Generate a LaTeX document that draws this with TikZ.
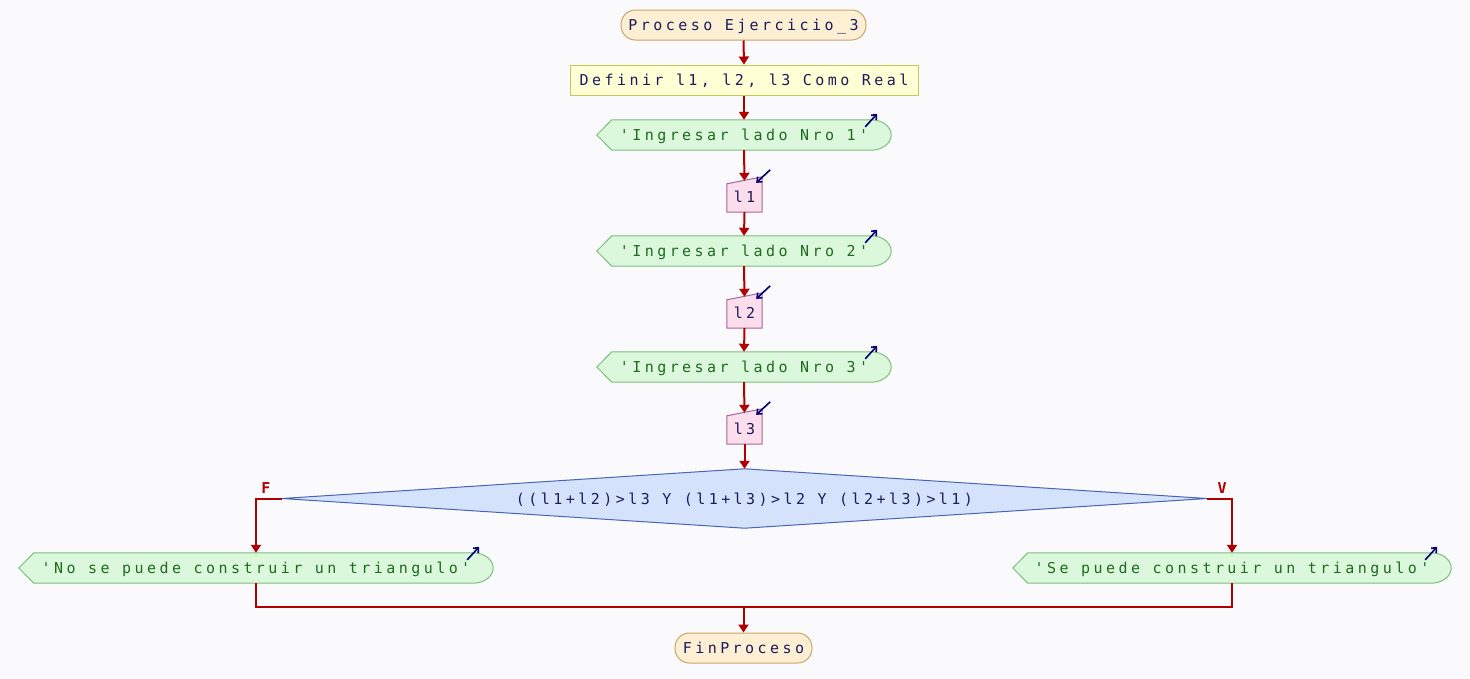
\documentclass[tikz,border=0pt]{standalone}
\usepackage{fontspec}
\usetikzlibrary{arrows.meta,calc}
\newfontfamily\pmono[LetterSpace=23]{DejaVu Sans Mono}
\newfontfamily\plbl{DejaVu Sans Mono}
\definecolor{bgc}{HTML}{FAFAFC}
\definecolor{termfill}{HTML}{FDEFD3}
\definecolor{termdraw}{HTML}{C9A46A}
\definecolor{deffill}{HTML}{FFFFD6}
\definecolor{defdraw}{HTML}{C8C858}
\definecolor{outfill}{HTML}{DCF8DC}
\definecolor{outdraw}{HTML}{7DBE7D}
\definecolor{outtext}{HTML}{1E6A1E}
\definecolor{infill}{HTML}{FBDDEB}
\definecolor{indraw}{HTML}{A8639F}
\definecolor{decfill}{HTML}{D5E2FB}
\definecolor{decdraw}{HTML}{4A64B4}
\definecolor{navytext}{HTML}{1C1C5C}
\definecolor{arrc}{HTML}{B00000}
\definecolor{iconc}{HTML}{000070}
\pgfdeclarelayer{bglayer}
\pgfdeclarelayer{shapelayer}
\pgfsetlayers{bglayer,shapelayer,main}
\newcommand\outshape[1]{%
  \draw[fill=outfill,draw=outdraw,line width=1pt]
    (#1.west) -- ($(#1.north west)+(15,0)$) -- ($(#1.north east)+(-20,0)$)
    .. controls ($(#1.north east)+(-9,0)$) and ($(#1.east)+(0,-8.3)$) .. (#1.east)
    .. controls ($(#1.east)+(0,8.3)$) and ($(#1.south east)+(-9,0)$) .. ($(#1.south east)+(-20,0)$)
    -- ($(#1.south west)+(15,0)$) -- cycle;}
\newcommand\inshape[1]{%
  \draw[fill=infill,draw=indraw,line width=1pt]
    (#1.south west) -- ($(#1.north west)+(0,3)$) -- ($(#1.north east)+(0,-4)$) -- (#1.south east) -- cycle;}
\tikzset{
  txt/.style={inner sep=0pt,text height=12pt,text depth=1pt,font=\pmono\fontsize{15}{17}\selectfont},
  term/.style={txt,draw=termdraw,fill=termfill,line width=1pt,rounded corners=14.5pt,minimum width=#1,minimum height=30pt,text=navytext},
  defbox/.style={txt,draw=defdraw,fill=deffill,line width=1pt,minimum width=348pt,minimum height=30pt,text=navytext},
  outbox/.style={txt,minimum width=#1,minimum height=30pt,text=outtext},
  inbox/.style={txt,minimum width=35pt,minimum height=31pt,text=navytext},
  decbox/.style={txt,minimum width=925pt,minimum height=59pt,text=navytext},
  lbl/.style={inner sep=0pt,text=arrc,font=\plbl\bfseries\fontsize{15}{17}\selectfont},
  arr/.style={draw=arrc,line width=2pt,-{Triangle[length=8pt,width=10pt]}},
  conn/.style={draw=arrc,line width=2pt},
  icon/.style={draw=iconc,line width=1.6pt,-{Straight Barb[length=4pt,width=7pt]}}
}
\begin{document}
\begin{tikzpicture}[x=1pt,y=-1pt]
\useasboundingbox (0,0) rectangle (1470,678);
\begin{pgfonlayer}{bglayer}
\fill[bgc] (0,0) rectangle (1470,678);
\end{pgfonlayer}
\node[term=245pt] (start) at (743.5,25) {Proceso Ejercicio\_3};
\node[defbox] (def) at (744,80) {Definir l1, l2, l3 Como Real};
\node[outbox=294pt] (o1) at (744,135) {'Ingresar lado Nro 1'};
\node[inbox] (i1) at (744.5,196.5) {l1};
\node[outbox=294pt] (o2) at (744,251) {'Ingresar lado Nro 2'};
\node[inbox] (i2) at (744.5,312.5) {l2};
\node[outbox=294pt] (o3) at (744,367) {'Ingresar lado Nro 3'};
\node[inbox] (i3) at (744.5,428.5) {l3};
\node[decbox] (dec) at (744.5,498.5) {((l1+l2)>l3 Y (l1+l3)>l2 Y (l2+l3)>l1)};
\node[outbox=474pt] (lo) at (256,568) {'No se puede construir un triangulo'};
\node[outbox=438pt] (ro) at (1232,568) {'Se puede construir un triangulo'};
\node[term=137pt] (fin) at (743.5,648) {FinProceso};
\node[lbl] (fl) at ($(dec.west)+(-16,-10)$) {F};
\node[lbl] (vl) at ($(dec.east)+(15,-10)$) {V};
\begin{pgfonlayer}{shapelayer}
\outshape{o1}\outshape{o2}\outshape{o3}\outshape{lo}\outshape{ro}
\inshape{i1}\inshape{i2}\inshape{i3}
\draw[fill=decfill,draw=decdraw,line width=1pt] (dec.north) -- (dec.east) -- (dec.south) -- (dec.west) -- cycle;
\end{pgfonlayer}
\draw[arr] (start.south) -- (def.north);
\draw[arr] (def.south) -- (o1.north);
\draw[arr] (o1.south) -- (i1.north);
\draw[arr] (i1.south) -- (o2.north);
\draw[arr] (o2.south) -- (i2.north);
\draw[arr] (i2.south) -- (o3.north);
\draw[arr] (o3.south) -- (i3.north);
\draw[arr] (i3.south) -- (dec.north);
\draw[arr] (dec.west) -| (lo.north);
\draw[arr] (dec.east) -| (ro.north);
\coordinate (mj) at (743.5,607);
\draw[conn] (lo.south) |- (mj) -| (ro.south);
\draw[arr] (mj) -- (fin.north);
\foreach \n in {o1,o2,o3,lo,ro}{
  \draw[icon] ($(\n.north east)+(-26,7)$) -- ($(\n.north east)+(-14,-6)$);
}
\foreach \n in {i1,i2,i3}{
  \draw[icon] ($(\n.north east)+(8,-11)$) -- ($(\n.north east)+(-6,2)$);
}
\end{tikzpicture}
\end{document}
